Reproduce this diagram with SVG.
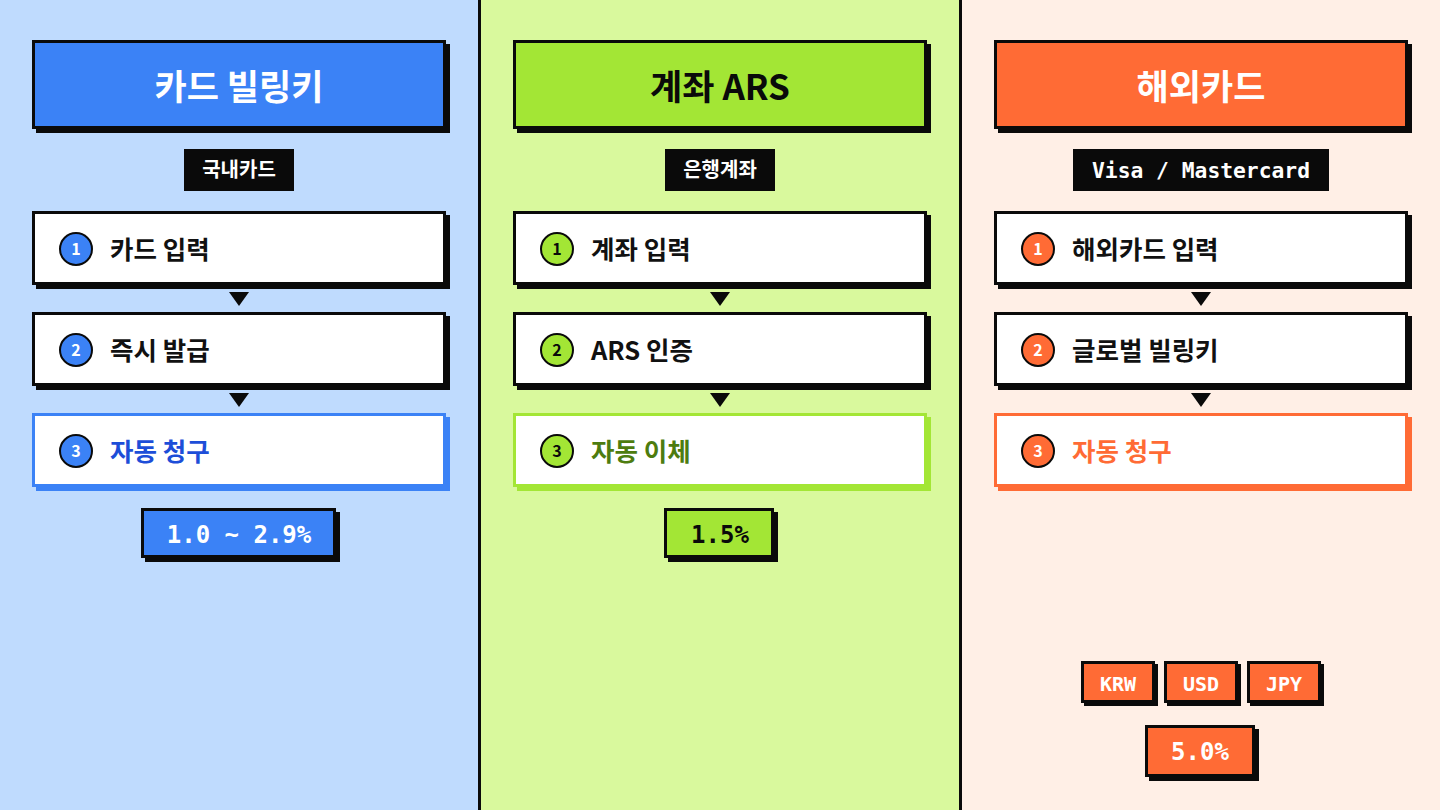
<svg xmlns="http://www.w3.org/2000/svg" width="1440" height="810" viewBox="0 0 1440 810">
<defs>
<style>
.kr{font-family:"Noto Sans CJK KR","Noto Sans",sans-serif;font-weight:700}
.mono{font-family:"DejaVu Sans Mono","Liberation Mono",monospace;font-weight:700}
.hdr{font-size:35px;text-anchor:middle}
.tagt{font-size:20px;fill:#ffffff;text-anchor:middle}
.step{font-size:25.5px;fill:#111111}
.num{font-size:16px;text-anchor:middle}
.pct{font-size:24px;text-anchor:middle}
.cur{font-size:20px;fill:#ffffff;text-anchor:middle}
.bx{stroke:#0a0a0a;stroke-width:3}
.sh{fill:#0a0a0a}
.circ{stroke:#0a0a0a;stroke-width:2}
.tri{fill:#0a0a0a}
</style>
</defs>
<rect x="0" y="0" width="479" height="810" fill="#bfdbfe"/>
<rect x="480" y="0" width="480" height="810" fill="#d9f99d"/>
<rect x="961" y="0" width="479" height="810" fill="#ffefe6"/>
<rect x="478" y="0" width="3" height="810" fill="#0a0a0a"/>
<rect x="959" y="0" width="3" height="810" fill="#0a0a0a"/>

<!-- Column 1 -->
<g id="col1-header">
<rect class="sh" x="36" y="44" width="414" height="89"/>
<rect class="bx" x="33.5" y="41.5" width="411" height="86" fill="#3b82f6"/>
<text class="kr hdr" x="239" y="100" fill="#ffffff">카드 빌링키</text>
</g>
<g id="col1-tag">
<rect x="184" y="149" width="110" height="42" fill="#0a0a0a"/>
<text class="kr tagt" x="239" y="177">국내카드</text>
</g>
<g id="col1-step1">
<rect class="sh" x="36" y="215" width="414" height="74"/>
<rect class="bx" x="33.5" y="212.5" width="411" height="71" fill="#ffffff"/>
<circle class="circ" cx="76" cy="249" r="16" fill="#3b82f6"/>
<text class="kr num" x="76" y="255" fill="#ffffff">1</text>
<text class="kr step" x="110" y="259">카드 입력</text>
</g>
<g id="col1-step2">
<rect class="sh" x="36" y="316" width="414" height="74"/>
<rect class="bx" x="33.5" y="313.5" width="411" height="71" fill="#ffffff"/>
<circle class="circ" cx="76" cy="350" r="16" fill="#3b82f6"/>
<text class="kr num" x="76" y="356" fill="#ffffff">2</text>
<text class="kr step" x="110" y="360">즉시 발급</text>
</g>
<g id="col1-step3">
<rect x="36" y="417" width="414" height="74" fill="#3b82f6"/>
<rect x="33.5" y="414.5" width="411" height="71" fill="#ffffff" stroke="#3b82f6" stroke-width="3"/>
<circle class="circ" cx="76" cy="451" r="16" fill="#3b82f6"/>
<text class="kr num" x="76" y="457" fill="#ffffff">3</text>
<text class="kr step" x="110" y="461" style="fill:#1d4ed8">자동 청구</text>
</g>
<g id="col1-rate">
<rect class="sh" x="145" y="512" width="195" height="50"/>
<rect class="bx" x="142.5" y="509.5" width="192" height="47" fill="#3b82f6"/>
<text class="mono pct" x="239" y="543" fill="#ffffff">1.0 ~ 2.9%</text>
</g>

<!-- Column 2 -->
<g id="col2-header">
<rect class="sh" x="517" y="44" width="414" height="89"/>
<rect class="bx" x="514.5" y="41.5" width="411" height="86" fill="#a3e635"/>
<text class="kr hdr" x="720" y="100" fill="#0a0a0a">계좌 ARS</text>
</g>
<g id="col2-tag">
<rect x="665" y="149" width="110" height="42" fill="#0a0a0a"/>
<text class="kr tagt" x="720" y="177">은행계좌</text>
</g>
<g id="col2-step1">
<rect class="sh" x="517" y="215" width="414" height="74"/>
<rect class="bx" x="514.5" y="212.5" width="411" height="71" fill="#ffffff"/>
<circle class="circ" cx="557" cy="249" r="16" fill="#a3e635"/>
<text class="kr num" x="557" y="255" fill="#0a0a0a">1</text>
<text class="kr step" x="591" y="259">계좌 입력</text>
</g>
<g id="col2-step2">
<rect class="sh" x="517" y="316" width="414" height="74"/>
<rect class="bx" x="514.5" y="313.5" width="411" height="71" fill="#ffffff"/>
<circle class="circ" cx="557" cy="350" r="16" fill="#a3e635"/>
<text class="kr num" x="557" y="356" fill="#0a0a0a">2</text>
<text class="kr step" x="591" y="360">ARS 인증</text>
</g>
<g id="col2-step3">
<rect x="517" y="417" width="414" height="74" fill="#a3e635"/>
<rect x="514.5" y="414.5" width="411" height="71" fill="#ffffff" stroke="#a3e635" stroke-width="3"/>
<circle class="circ" cx="557" cy="451" r="16" fill="#a3e635"/>
<text class="kr num" x="557" y="457" fill="#0a0a0a">3</text>
<text class="kr step" x="591" y="461" style="fill:#4d7c0f">자동 이체</text>
</g>
<g id="col2-rate">
<rect class="sh" x="668" y="512" width="110" height="50"/>
<rect class="bx" x="665.5" y="509.5" width="107" height="47" fill="#a3e635"/>
<text class="mono pct" x="720" y="543" fill="#0a0a0a">1.5%</text>
</g>

<!-- Column 3 -->
<g id="col3-header">
<rect class="sh" x="998" y="44" width="414" height="89"/>
<rect class="bx" x="995.5" y="41.5" width="411" height="86" fill="#ff6b35"/>
<text class="kr hdr" x="1201" y="100" fill="#ffffff">해외카드</text>
</g>
<g id="col3-tag">
<rect x="1073" y="149" width="256" height="42" fill="#0a0a0a"/>
<text class="mono" x="1201" y="178" font-size="21.3" fill="#ffffff" text-anchor="middle">Visa / Mastercard</text>
</g>
<g id="col3-step1">
<rect class="sh" x="998" y="215" width="414" height="74"/>
<rect class="bx" x="995.5" y="212.5" width="411" height="71" fill="#ffffff"/>
<circle class="circ" cx="1038" cy="249" r="16" fill="#ff6b35"/>
<text class="kr num" x="1038" y="255" fill="#ffffff">1</text>
<text class="kr step" x="1072" y="259">해외카드 입력</text>
</g>
<g id="col3-step2">
<rect class="sh" x="998" y="316" width="414" height="74"/>
<rect class="bx" x="995.5" y="313.5" width="411" height="71" fill="#ffffff"/>
<circle class="circ" cx="1038" cy="350" r="16" fill="#ff6b35"/>
<text class="kr num" x="1038" y="356" fill="#ffffff">2</text>
<text class="kr step" x="1072" y="360">글로벌 빌링키</text>
</g>
<g id="col3-step3">
<rect x="998" y="417" width="414" height="74" fill="#ff6b35"/>
<rect x="995.5" y="414.5" width="411" height="71" fill="#ffffff" stroke="#ff6b35" stroke-width="3"/>
<circle class="circ" cx="1038" cy="451" r="16" fill="#ff6b35"/>
<text class="kr num" x="1038" y="457" fill="#ffffff">3</text>
<text class="kr step" x="1072" y="461" style="fill:#ff6b35">자동 청구</text>
</g>
<g id="col3-krw">
<rect class="sh" x="1084" y="664" width="74" height="42"/>
<rect class="bx" x="1082.5" y="662.5" width="71" height="39" fill="#ff6b35"/>
<text class="mono cur" x="1118" y="691">KRW</text>
</g>
<g id="col3-usd">
<rect class="sh" x="1167" y="664" width="74" height="42"/>
<rect class="bx" x="1165.5" y="662.5" width="71" height="39" fill="#ff6b35"/>
<text class="mono cur" x="1201" y="691">USD</text>
</g>
<g id="col3-jpy">
<rect class="sh" x="1250" y="664" width="74" height="42"/>
<rect class="bx" x="1248.5" y="662.5" width="71" height="39" fill="#ff6b35"/>
<text class="mono cur" x="1284" y="691">JPY</text>
</g>
<g id="col3-rate">
<rect class="sh" x="1149" y="729" width="110" height="52"/>
<rect class="bx" x="1146.5" y="726.5" width="107" height="49" fill="#ff6b35"/>
<text class="mono pct" x="1200" y="760" fill="#ffffff">5.0%</text>
</g>

<g id="connectors">
<polygon class="tri" points="229,292 249,292 239,306"/>
<polygon class="tri" points="229,393 249,393 239,407"/>
<polygon class="tri" points="710,292 730,292 720,306"/>
<polygon class="tri" points="710,393 730,393 720,407"/>
<polygon class="tri" points="1191,292 1211,292 1201,306"/>
<polygon class="tri" points="1191,393 1211,393 1201,407"/>
</g>
</svg>
